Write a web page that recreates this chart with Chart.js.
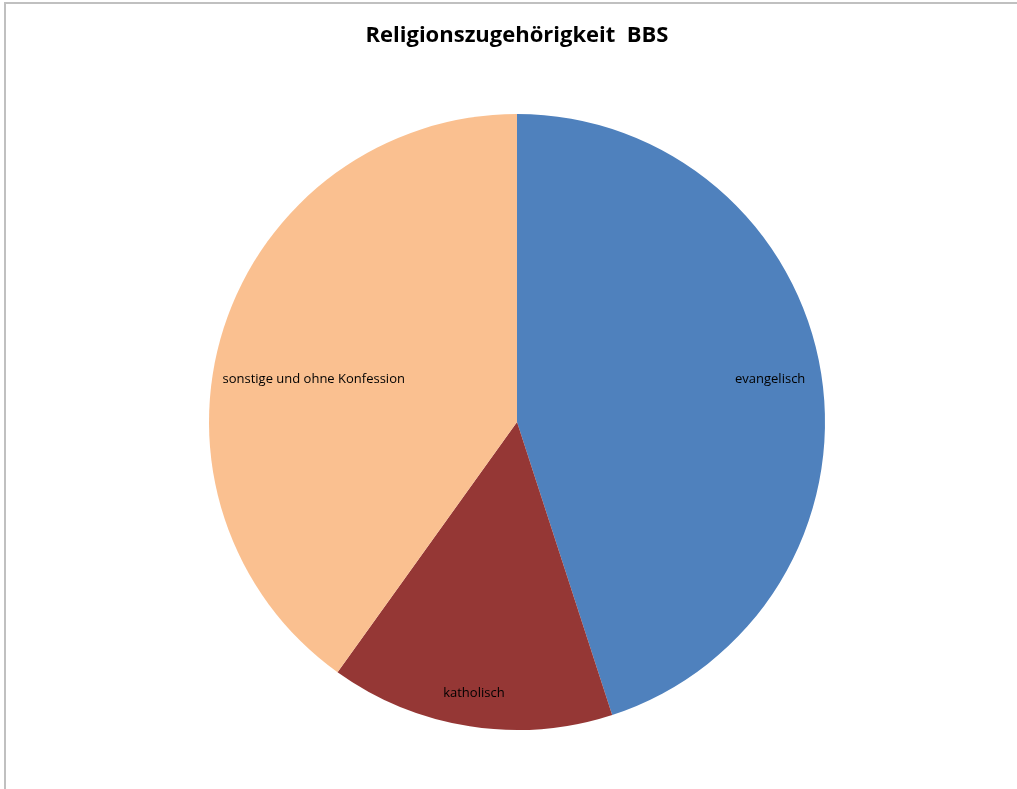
<!DOCTYPE html>
<html>
<head>
<meta charset="utf-8">
<script src="https://cdn.jsdelivr.net/npm/chart.js@4/dist/chart.umd.min.js"></script>
<style>
  body { margin: 0; background: #fff; }
  #frame { position: absolute; left: 4px; top: 2px; width: 1013px; height: 787px;
           border-left: 2px solid #c0c0c0; border-top: 2px solid #c0c0c0; box-sizing: border-box; }
  #wrap { position: absolute; left: 0; top: 0; width: 1017px; height: 789px; }
</style>
</head>
<body>
<div id="frame"></div>
<div id="wrap"><canvas id="religion_chart"></canvas></div>
<script>
// Religionszugehoerigkeit BBS, Anteile in Prozent (aus dem Bild geschaetzt)
const labels = ['evangelisch', 'katholisch', 'sonstige und ohne Konfession']
const values = [45.0, 14.9, 40.1]
const colors = ['#4F81BD', '#953735', '#FAC090']

// label spots, in units of the radius, relative to the pie centre
const label_offsets = [[0.822, -0.14], [-0.14, 0.88], [-0.66, -0.14]]

const sliceLabels = {
    id: 'sliceLabels',
    afterDatasetsDraw(chart) {
        const ctx = chart.ctx
        const arcs = chart.getDatasetMeta(0).data
        ctx.save()
        ctx.font = '13px "Open Sans"'
        ctx.fillStyle = '#000'
        ctx.textAlign = 'center'
        ctx.textBaseline = 'middle'
        arcs.forEach(function (arc, i) {
            const r = arc.outerRadius
            ctx.fillText(labels[i], arc.x + label_offsets[i][0] * r, arc.y + label_offsets[i][1] * r)
        })
        ctx.restore()
    }
}

var religion_chart = new Chart(
    document.getElementById('religion_chart').getContext('2d'),
    config = {
        type: 'pie',
        data: {
            labels: labels,
            datasets: [{
                data: values,
                backgroundColor: colors,
                borderColor: colors,
                borderWidth: 0,
            }]
        },
        options: {
            responsive: true,
            maintainAspectRatio: false,
            animation: false,
            layout: {
                padding: { top: 0, bottom: 59, left: 17, right: 0 }
            },
            plugins: {
                legend: { display: false },
                tooltip: { enabled: false },
                title: {
                    display: true,
                    text: 'Religionszugehörigkeit  BBS',
                    color: '#000',
                    font: { family: 'Open Sans', size: 22, weight: 'bold', lineHeight: 1.2 },
                    padding: { top: 23, bottom: 64.6 },
                }
            }
        },
        plugins: [sliceLabels]
    }
);
</script>
</body>
</html>
